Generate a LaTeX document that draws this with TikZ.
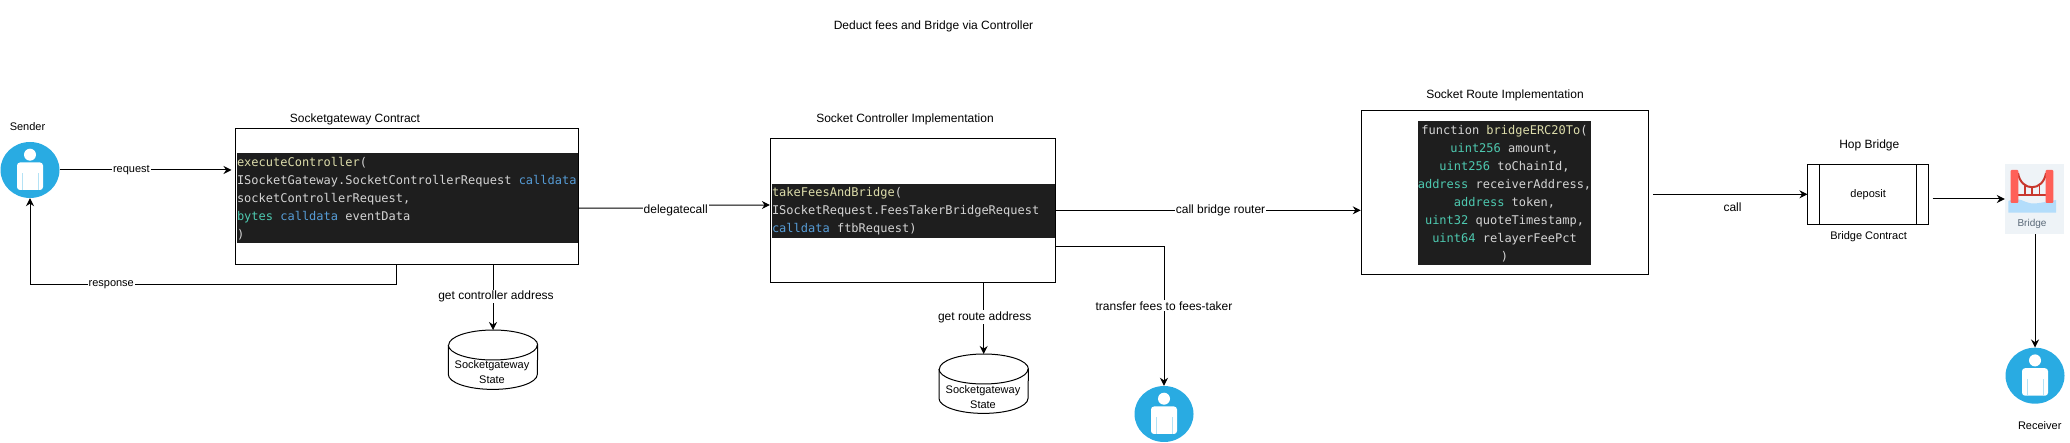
\documentclass[tikz,border=0pt]{standalone}
\usepackage{xcolor}
\usepackage{fontspec}
\usepackage{tikz}
\usetikzlibrary{shapes.geometric, arrows.meta, positioning}
\setmainfont{Liberation Sans}
\setmonofont{DejaVu Sans Mono}
\definecolor{codebg}{HTML}{1E1E1E}
\definecolor{codetxt}{HTML}{D4D4D4}
\definecolor{codefn}{HTML}{DCDCAA}
\definecolor{codekw}{HTML}{569CD6}
\definecolor{codety}{HTML}{4EC9B0}
\definecolor{userblue}{HTML}{29ABE2}
\definecolor{towerred}{HTML}{FF6058}
\definecolor{cablered}{HTML}{C8372D}
\definecolor{waterblue}{HTML}{B3DDFB}
\definecolor{iconbg}{HTML}{EEF3F7}
\newcommand{\fn}[1]{\textcolor{codefn}{#1}}
\newcommand{\kw}[1]{\textcolor{codekw}{#1}}
\newcommand{\ty}[1]{\textcolor{codety}{#1}}
\newcommand{\statedb}[1]{%
    \draw[line width=1pt, fill=white] ([yshift=-15pt]#1.north west) -- ([yshift=15pt]#1.south west) arc[start angle=180, end angle=360, x radius=44.5pt, y radius=15pt] -- ([yshift=-15pt]#1.north east) arc[start angle=0, end angle=180, x radius=44.5pt, y radius=15pt];
    \draw[line width=1pt] ([yshift=-15pt]#1.north west) arc[start angle=180, end angle=360, x radius=44.5pt, y radius=15pt];
}

\begin{document}
\begin{tikzpicture}[
        x=1pt, y=-1pt,
        contract/.style={rectangle, draw=black, line width=1pt, fill=white, inner sep=0pt},
        code/.style={rectangle, fill=codebg, text=codetxt, inner sep=0pt, font=\fontsize{12}{18}\selectfont\ttfamily},
        caption/.style={font=\fontsize{12}{14}\selectfont},
        small/.style={font=\fontsize{11}{13}\selectfont},
        edgelabel/.style={fill=white, inner sep=1pt, font=\fontsize{12}{14}\selectfont},
        smalledge/.style={edgelabel, font=\fontsize{11}{13}\selectfont},
        flow/.style={-{Stealth[length=8pt, width=8pt]}, line width=1pt, black},
        state/.style={rectangle, minimum width=89pt, minimum height=59pt, inner sep=0pt, anchor=north},
        statetext/.style={align=center, inner sep=0pt, font=\fontsize{11}{15}\selectfont},
        process/.style={rectangle, draw=black, line width=1pt, minimum width=120.5pt, minimum height=60pt, inner sep=0pt,
            path picture={
                \draw[line width=1pt] ([xshift=12pt]path picture bounding box.north west) -- ([xshift=12pt]path picture bounding box.south west);
                \draw[line width=1pt] ([xshift=-12pt]path picture bounding box.north east) -- ([xshift=-12pt]path picture bounding box.south east);
            }},
        person/.style={ellipse, fill=userblue, minimum width=59pt, minimum height=56pt, inner sep=0pt,
            path picture={
                \fill[white] ([yshift=15.3pt]path picture bounding box.center) circle (6pt);
                \fill[white, rounded corners=3pt] ([shift={(-13pt,7.5pt)}]path picture bounding box.center) rectangle ([shift={(13pt,-20pt)}]path picture bounding box.center);
                \fill[userblue!35] ([shift={(-8.5pt,-3pt)}]path picture bounding box.center) rectangle ([shift={(-7.8pt,-20pt)}]path picture bounding box.center);
                \fill[userblue!35] ([shift={(7.8pt,-3pt)}]path picture bounding box.center) rectangle ([shift={(8.5pt,-20pt)}]path picture bounding box.center);
            }}
    ]
    \useasboundingbox (0,0) rectangle (2070,443);

    \node[caption] at (933.5,26) {Deduct fees and Bridge via Controller};

    % Sender
    \node[person] (sender) at (30,170) {};
    \node[small] at (27.5,127) {Sender};

    % Gateway
    \node[contract, minimum width=343.5pt, minimum height=136.5pt] (gateway) at (406.75,196.75) {};
    \node[code, text width=341pt, minimum height=90pt, align=flush left] (gatewaycode) at (407.5,198.5) {\fn{executeController}(\\ISocketGateway.SocketControllerRequest \kw{calldata}\\socketControllerRequest,\\\ty{bytes} \kw{calldata} eventData\\)};
    \node[caption] at (355,119) {Socketgateway Contract};
    \node[state] (gatewaystate) at (493,330) {};
    \statedb{gatewaystate}
    \node[statetext] at (492,372.5) {Socketgateway\\State};

    % Controller
    \node[contract, minimum width=285pt, minimum height=144pt] (controller) at (912.9,210.3) {};
    \node[code, text width=283pt, minimum height=54pt, align=flush left] (controllercode) at (913.5,211.5) {\fn{takeFeesAndBridge}(\\ISocketRequest.FeesTakerBridgeRequest\\\kw{calldata} ftbRequest)};
    \node[caption] at (905,119) {Socket Controller Implementation};
    \node[state] (routestate) at (983.7,354) {};
    \statedb{routestate}
    \node[statetext] at (983,396.7) {Socketgateway\\State};
    \node[person] (feestaker) at (1164,414) {};

    % Route
    \node[contract, minimum width=287.5pt, minimum height=164pt] (route) at (1505,192.3) {};
    \node[code, minimum width=173pt, minimum height=144pt, align=flush center] (routecode) at (1504.5,193.5) {function \fn{bridgeERC20To}(\\\ty{uint256} amount,\\\ty{uint256} toChainId,\\\ty{address} receiverAddress,\\\ty{address} token,\\\ty{uint32} quoteTimestamp,\\\ty{uint64} relayerFeePct\\)};
    \node[caption] at (1505,95) {Socket Route Implementation};

    % Hop bridge
    \node[process, small] (deposit) at (1868.2,194.3) {deposit};
    \node[caption] at (1869.3,145) {Hop Bridge};
    \node[small] at (1868.6,237) {Bridge Contract};

    % Bridge icon
    \node[rectangle, fill=iconbg, minimum width=59pt, minimum height=70pt, inner sep=0pt] (bridge) at (2034.5,199) {};
    \fill[waterblue] (2008.3,201) .. controls (2014,198) and (2020,199) .. (2026,202) .. controls (2032,205) and (2040,203) .. (2056,200) -- (2056,212.7) -- (2008.3,212.7) -- cycle;
    \draw[cablered, line width=2pt] (2018,173) .. controls (2021,192) and (2043,192) .. (2046,173);
    \draw[cablered, line width=2pt] (2018,195) -- (2046,195);
    \draw[cablered, line width=1.5pt] (2025,185) -- (2025,194) (2032,187) -- (2032,194) (2039.3,185) -- (2039.3,194);
    \fill[towerred, rounded corners=1pt] (2010.7,170) rectangle (2018.3,203);
    \fill[towerred, rounded corners=1pt] (2045.7,170) rectangle (2053.3,203);
    \node[font=\fontsize{10}{12}\selectfont, text={rgb,255:red,90;green,105;blue,120}] at (2032,224) {Bridge};

    % Receiver
    \node[person] (receiver) at (2035,375.7) {};
    \node[small] at (2039.7,426) {Receiver};

    % Arrows
    \coordinate (callstart) at (1653,194.3);
    \coordinate (depositout) at (1932.6,199);
    \coordinate (responsecorner) at (30,285);
    \draw[flow, shorten >=3pt] (sender) -- node[smalledge, pos=0.41] {request} (sender -| gateway.west);
    \draw[flow] ([xshift=-10.75pt]gateway.south) |- node[smalledge, pos=0.889] {response} (responsecorner) -- (sender.south);
    \draw[flow] (gatewaystate.north |- gateway.south) -- node[edgelabel, pos=0.48, xshift=3pt] {get controller address} (gatewaystate.north);
    \draw[flow] ([yshift=-11.5pt]gateway.east) -- ++(96,0) -- ++(0,-3) -- (controller.west |- 0,205);
    \node[edgelabel] (delegatelabel) at (675.7,210.7) {delegatecall};
    \draw[flow] (controller.east) -- node[edgelabel, pos=0.54] {call bridge router} (controller.east -| route.west);
    \draw[flow] ([yshift=-36pt]controller.east) -| node[edgelabel, pos=0.713] {transfer fees to fees-taker} (feestaker.north);
    \draw[flow] (routestate.north |- controller.south) -- node[edgelabel, pos=0.48, xshift=1pt] {get route address} (routestate.north);
    \draw[flow] (callstart) -- (deposit.west);
    \node[edgelabel] (calllabel) at (1732.5,207) {call};
    \draw[flow] (depositout) -- (depositout -| bridge.west);
    \draw[flow] (receiver.north |- bridge.south) -- (receiver.north);

\end{tikzpicture}
\end{document}
